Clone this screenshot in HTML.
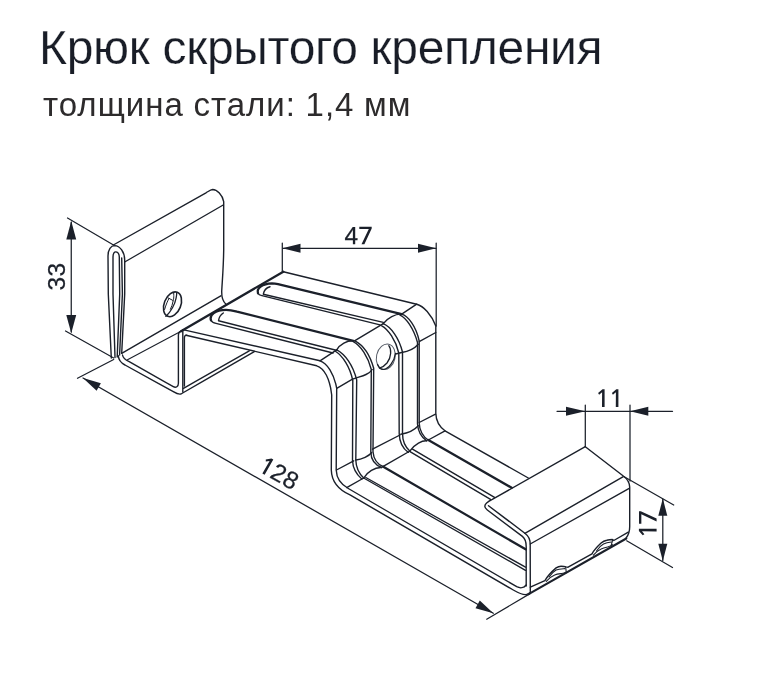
<!DOCTYPE html>
<html><head><meta charset="utf-8">
<style>
html,body{margin:0;padding:0;background:#fff;}
body{width:768px;height:685px;overflow:hidden;position:relative;font-family:"Liberation Sans",sans-serif;}
#t1{position:absolute;left:39px;top:21px;-webkit-text-stroke:0.25px #fff;font-size:48px;line-height:54px;letter-spacing:-0.3px;color:#191d27;white-space:nowrap;will-change:transform;}
#t2{position:absolute;left:42.5px;top:84.7px;font-size:33px;line-height:40px;letter-spacing:1px;word-spacing:-0.5px;color:#2d2b2c;white-space:nowrap;will-change:transform;}
svg{position:absolute;left:0;top:0;will-change:transform;}
</style></head><body>
<div id="t1">Крюк скрытого крепления</div>
<div id="t2">толщина стали: 1,4 мм</div>
<svg width="768" height="685" viewBox="0 0 768 685" fill="none" stroke="#1b202a" stroke-linecap="round" stroke-linejoin="round">
<g stroke-width="1.25"><path d="M67.5,218 L113.5,245"/>
<path d="M65.5,331 L113.7,358"/>
<path d="M71.25,222 L71.25,332"/>
<path d="M282.3,243 L282.3,271.5"/>
<path d="M436.2,243 L436.2,326"/>
<path d="M283,248.3 L436,248.3"/>
<path d="M77.5,378.3 L113.7,359.5"/>
<path d="M83,378 L493.3,613.3"/>
<path d="M486.7,619.2 L530,593.6"/>
<path d="M557,411.3 L672.5,411.3"/>
<path d="M585.3,405 L585.3,446.5"/>
<path d="M630,405 L630,481"/>
<path d="M624.2,476.7 L673.7,505"/>
<path d="M626.7,540.8 L672.5,567.5"/>
<path d="M662.8,499 L662.8,560.5"/></g>
<g stroke="none" fill="#1b202a"><polygon points="71.25,221 66.3,239.5 76.2,239.5"/>
<polygon points="71.25,333.2 66.3,315 76.2,315"/>
<polygon points="282.3,248.3 300.5,243.8 300.5,252.8"/>
<polygon points="436.2,248.3 418,243.8 418,252.8"/>
<polygon points="83,378 100.9,383.2 96.6,390.8"/>
<polygon points="493.3,613.3 479.8,600.6 475.5,608.2"/>
<polygon points="585.3,411.3 566,406.8 566,415.8"/>
<polygon points="630,411.3 648.3,406.8 648.3,415.8"/>
<polygon points="662.8,498.5 658.3,515.8 667.3,515.8"/>
<polygon points="662.8,561 658.3,543.7 667.3,543.7"/></g>
<g stroke-width="1.4"><path d="M113.3,245 L206,192.8 C208.5,191.3 210.6,189.6 212.6,189.5 C217,189.5 222.5,195 223.7,201.7 L223.7,250 C223.4,270 222,284 221.7,291.7 C221.6,297 223,301.5 226,304.3"/>
<path d="M124.7,262 L223.2,205"/>
<path d="M111.3,358 L108.3,294 L108,256 C108,249.5 111,245.6 114.6,245.6 C120,245.8 124.7,252 124.7,260 L124.7,294 L121.7,353.3"/>
<path d="M115,357.5 L113,294 L113,257 C113,253 114.5,251.7 116,251.9 C118,252.2 119.2,254 119.3,257 L119.7,294 L117.2,357"/>
<path d="M121.7,258 L122.4,294 L119.6,355"/>
<path d="M121.7,353.3 L220.8,295.8"/>
<path d="M118.3,355.8 C118.6,360 121,363 125,365 L173.3,391.7 C176,393.3 179,394.6 181,394 L183.5,392.5 L254.3,351.7"/>
<path d="M122.5,355 C123,358 125.5,360 129.2,361.7 L173.3,386.7 C176,388.2 178.4,386.5 178.4,383.3 L178.4,335 C178.4,333 179,332 180.5,331.5"/>
<path d="M182.8,330 L182.8,392"/>
<path d="M183.5,388.3 L249.3,350.8"/>
<path d="M184.4,386 L184.4,338 C184.4,335.8 185.2,334.8 187,335.4"/>
<path d="M283.3,271.7 L416.7,304.2 C423.5,306 431.5,314.5 435.8,326 L435.8,413.3 C436,420.5 439,426.5 445,430.8 L528.3,478"/>
<path d="M182.8,329.6 L320,360.8 C327,363 334,373.5 336.7,388.3 L336.2,470 C336.5,478 341,484.5 348.3,488.5 L516.7,586.7 C520,588.5 524,588 526.2,585"/>
<path d="M186,335.2 L316.7,365.8 C324,368 330,378.5 331.7,395 L331.3,470 C331.6,480.5 338,489.5 350,494.9 L513.3,590 C518,592.7 523,595.5 526.7,594.5 L530.3,592.5"/>
<path d="M258,293.3 C258.8,295 260,295.2 262,295.6 L380,324.9"/>
<path d="M270,286.7 C267,287.5 264,290 263.3,294.2 L383.3,322.4"/>
<path d="M401.7,314.2 C396,313.5 387,318 383.3,323.7"/>
<path d="M211,320.3 C212,322.5 214,323 216,323.4 L333,353"/>
<path d="M223.3,313 C221,314.5 219,317 218.5,320.8 L336.2,350.3"/>
<path d="M353.3,340.8 C347,340.5 340,344 336.7,349.8"/>
<path d="M416.7,304.2 L401.7,314.2"/>
<path d="M383.3,323.7 L354.5,340.9"/>
<path d="M336.7,349.8 L320,360.8"/>
<path d="M401.7,314.2 C408,316 416,326 419.2,341 L419.2,423 C419.3,430 423,437 428.3,440"/>
<path d="M400,315.2 C406,318 413.5,328 417.5,342.5 L417.5,424 C418,431 421,437 426.7,440.8"/>
<path d="M383.3,323.7 C391,327 399,338 402.5,352 L402.5,433.3 C402.5,441 405,447 410,451.3"/>
<path d="M381.7,325.8 C388,329 396,340.5 398.8,353 L399.2,433.5 C399.5,442 402.5,448.5 408.3,452.3"/>
<path d="M355,340.8 C363,345 370,355 373.7,368.3 L373,451.7 C373.5,458 377,464 383.3,466.7"/>
<path d="M353.3,341.7 C361,346 368,356.5 371.3,369.5 L370.8,452 C371,459 375,465 381.7,467.5"/>
<path d="M336.7,349.8 C345,354 353,365 356.7,380 L355.8,460 C356,467 359,473.5 363.7,478"/>
<path d="M335,351 C343,356 350,367 352.8,380.5 L352.5,460.5 C352.8,468 356,474 361.8,479"/>
<path d="M435.8,332.5 L419.2,341.7"/>
<path d="M418.3,344.2 C414,349 408,351.5 401.7,352.5 L395.6,354"/>
<path d="M336.7,388.3 L352.5,379.2 C356,377.5 362,376.5 366,374.5 C369,373 371,371.5 372.2,369.5"/>
<path d="M435.5,414.2 L419.2,422.5"/>
<path d="M418.3,425.8 C415,429.5 409,433 400.8,434.2"/>
<path d="M400,435 L372.5,449.2"/>
<path d="M371.7,452.5 C369,456 362,459.5 355.8,460"/>
<path d="M353.7,460.8 L336.5,470"/>
<path d="M445,430.8 L428.3,440"/>
<path d="M426.7,440.8 C422,440.5 415,444 410,450.8"/>
<path d="M410,451 L382.8,466.7"/>
<path d="M381.7,467.5 C375,467 367,472 363.7,478"/>
<path d="M363.7,478 L346.7,487.6"/>
<path d="M412.5,449.2 L494.5,497.3"/>
<path d="M410,451.7 L490.5,499.4"/>
<path d="M363.7,478 L525.5,570.3"/>
<path d="M365.8,477.5 L525.5,567.2"/>
<path d="M585.3,446.7 L492.3,499.4 C489,501 485,503 484.8,506.3 C484.8,508 486,509 487.3,510 L522.4,536.4 C525,538.5 526.2,542 526.2,546.5 L526.2,586"/>
<path d="M488.5,505.7 L524.9,533.3 C528.5,536 530.2,540 530.2,544 L530.3,592.5"/>
<path d="M585.3,446.7 L623.3,476 C627,478.7 629.5,482 629.7,487 L629.7,526.7 C629.7,531 628.6,534.8 626,538.2"/>
<path d="M524.9,533.3 L623.3,476.6"/>
<path d="M530.2,544 L629.2,488.3"/>
<path d="M530.3,587.2 L544.9,580.6 C547,577 550.5,572.8 556.1,567.9 C558,566.6 559.5,566.2 561,566.2 C563,566.2 565,566.5 566,566.9 L568.1,567.2 L592,553.8 C593.5,551 595.5,548.2 601.1,543 C603,541.3 605,540.5 606.8,540.2 C609,539.6 611,539.5 612.4,539.5 L613.8,540.5 L628.3,532.2"/></g>
<g stroke-width="2.3"><path d="M181,331.2 L283.3,271.7"/>
<path d="M258,293.3 C256.3,288.5 262,283.8 272,283.4 C274,283.4 276,283.7 278,284.2 L401.7,314.2"/>
<path d="M211,320.3 C209.2,315 215,310 226,309.8 C230,309.8 233,310.5 237,311.6 L353.3,340.8"/>
<path d="M428.3,440 L511.7,487.8"/>
<path d="M383.3,466.7 L525.6,549.3"/></g>
<g stroke-width="2.1"><path d="M528.6,594.2 L626.3,538.5"/></g>
<g stroke-width="1.1"><path d="M127.5,359.7 L181,331.2"/>
<path d="M565.7,567.2 L566.3,572.8"/>
<path d="M612.7,539.8 L611,546.1"/>
<path d="M546.3,581.3 C549,578 552,576 554.7,574.9 C557,574 559.5,573.8 561.8,573.5 C563.5,573.2 565,572.7 566,572.1"/>
<path d="M593.4,555.2 C596,552 598.5,550 601.1,548.9 C603.5,547.8 606,547.3 608.2,546.8 C610,546.3 611.5,545.5 612.4,544.7"/>
<path d="M549.1,577 C551,574 553.5,571.5 556.1,570 C559,568.8 562,568.8 564.8,568.6"/>
<path d="M596.5,551 C598.5,548 601,545.3 603.5,544 C606,542.8 609,542.3 611.5,542"/></g>
<g stroke-width="1.2"><g><ellipse cx="172.5" cy="304.3" rx="8.3" ry="12.9" transform="rotate(21.7 172.5 304.3)" stroke-width="1.6"/><path d="M165.8,316.4 C171,312 175,304 176.1,298.1 C176.6,295.5 176.8,294 176.7,292.6" stroke-width="1.3"/><path d="M164.6,309.5 C166,304.5 167.8,300.5 169,298.4 M168,297.8 L173.2,300.6 M173.7,292.8 C174,297 173.6,300 173.2,300.6 C172.6,304 171.6,307 170.4,309.3" stroke-width="1"/></g>
<g><ellipse cx="385.8" cy="356.85" rx="9.3" ry="12.9" transform="rotate(13 385.8 356.85)" stroke="#555b66" stroke-width="1"/><path d="M377.6,364.5 C379,368 381.5,369.8 384,369.4 C389,368.6 394.5,361 395.4,353.5" stroke-width="1.3"/><path d="M388.8,345.7 C391.5,349 391.6,357 387,363 C384.5,366 382,367.5 379.4,368.2" stroke-width="1.3"/></g></g>
<g stroke="#1b202a" stroke-width="0.25" stroke-linejoin="miter" fill="#1b202a" font-family="Liberation Sans, sans-serif" font-size="24.5px"><text transform="translate(65.4,276.5) rotate(-90)" text-anchor="middle" letter-spacing="0.4">33</text><g transform="translate(344.5,244.3)"><text x="0" y="0">4</text><path stroke="none" d="M14.80,-17.60 L27.20,-17.60 L27.20,-15.80 L19.90,0 L17.00,0 L24.30,-15.25 L14.80,-15.25 Z"/></g><g transform="translate(256.7,470.4) rotate(29.3)"><path stroke="none" d="M9.10,0 L6.50,0 L6.60,-14.60 L3.60,-12.20 L2.60,-13.90 L7.00,-17.70 L9.10,-17.70 Z"/><text x="13.7" y="0" letter-spacing="0.3">28</text></g><g transform="translate(595.5,406.9)"><path stroke="none" d="M9.10,0 L6.50,0 L6.60,-14.60 L3.60,-12.20 L2.60,-13.90 L7.00,-17.70 L9.10,-17.70 Z"/><path stroke="none" d="M22.90,0 L20.30,0 L20.40,-14.60 L17.40,-12.20 L16.40,-13.90 L20.80,-17.70 L22.90,-17.70 Z"/></g><g transform="translate(656.6,537.9) rotate(-90)"><path stroke="none" d="M9.10,0 L6.50,0 L6.60,-14.60 L3.60,-12.20 L2.60,-13.90 L7.00,-17.70 L9.10,-17.70 Z"/><path stroke="none" d="M14.20,-17.60 L26.60,-17.60 L26.60,-15.80 L19.30,0 L16.40,0 L23.70,-15.25 L14.20,-15.25 Z"/></g></g>
</svg>
</body></html>
